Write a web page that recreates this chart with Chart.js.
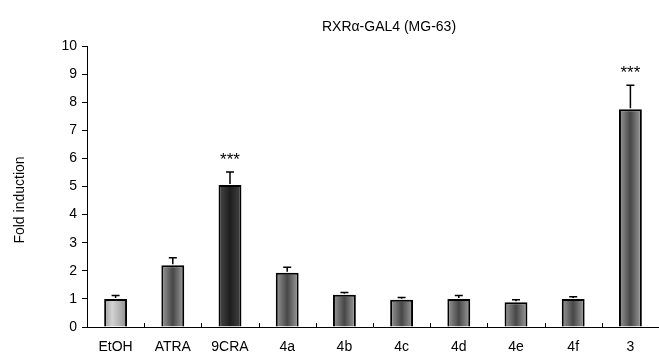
<!DOCTYPE html>
<html>
<head>
<meta charset="utf-8">
<script src="https://cdn.jsdelivr.net/npm/chart.js@4"></script>
<style>
  html, body { margin: 0; padding: 0; background: #fff; }
  #wrap { width: 659px; height: 355px; }
</style>
</head>
<body>
<div id="wrap"><canvas id="chart" width="659" height="355"></canvas></div>
<script>
  // values
  const labels = ['EtOH', 'ATRA', '9CRA', '4a', '4b', '4c', '4d', '4e', '4f', '3'];
  const foldInduction = [1.0, 2.2, 5.05, 1.93, 1.15, 0.97, 1.0, 0.88, 1.0, 7.75];
  const errorTop = [1.12, 2.46, 5.52, 2.13, 1.23, 1.05, 1.12, 0.97, 1.08, 8.6];
  const significance = ['', '', '***', '', '', '', '', '', '', '***'];
  const yTicks = [0, 1, 2, 3, 4, 5, 6, 7, 8, 9, 10];

  // shading of each bar (cylinder look)
  const light = [[0, '#9c9c9c'], [0.35, '#d2d2d2'], [0.65, '#b4b4b4'], [1, '#8c8c8c']];
  const mid = [[0, '#9a9a9a'], [0.5, '#474747'], [1, '#a0a0a0']];
  const dark = [[0, '#4a4a4a'], [0.5, '#1e1e1e'], [1, '#444444']];
  const shades = [light, mid, dark, mid, mid, mid, mid, mid, mid, mid];

  const font = "'Liberation Sans', Arial, sans-serif";

  function barFill(ctx) {
    const chart = ctx.chart;
    const xs = chart.scales.x;
    if (!xs || !chart.chartArea) return '#999';
    const cx = xs.getPixelForValue(ctx.dataIndex);
    const w = (chart.chartArea.right - chart.chartArea.left) / labels.length * 0.4;
    const g = chart.ctx.createLinearGradient(cx - w / 2, 0, cx + w / 2, 0);
    shades[ctx.dataIndex].forEach(([p, c]) => g.addColorStop(p, c));
    return g;
  }

  const extras = {
    id: 'extras',
    afterDatasetsDraw(chart) {
      const c = chart.ctx;
      const xs = chart.scales.x, ys = chart.scales.y;
      const area = chart.chartArea;
      c.save();
      // error bars (upper only)
      c.strokeStyle = '#000';
      c.lineWidth = 1.5;
      errorTop.forEach((e, i) => {
        const x = xs.getPixelForValue(i);
        const yb = ys.getPixelForValue(foldInduction[i]);
        const yt = ys.getPixelForValue(e);
        c.beginPath();
        c.moveTo(x, yb - 1);
        c.lineTo(x, yt);
        c.moveTo(x - 4, yt);
        c.lineTo(x + 4, yt);
        c.stroke();
      });
      // significance stars
      c.fillStyle = '#000';
      c.font = '17px ' + font;
      c.textAlign = 'center';
      c.textBaseline = 'middle';
      significance.forEach((s, i) => {
        if (!s) return;
        c.fillText(s, xs.getPixelForValue(i), ys.getPixelForValue(errorTop[i]) - 12);
      });
      // inward ticks between categories on the x axis
      c.lineWidth = 1;
      const step = (area.right - area.left) / labels.length;
      for (let k = 1; k < labels.length; k++) {
        const x = Math.round(area.left + step * k) + 0.5;
        c.beginPath();
        c.moveTo(x, area.bottom);
        c.lineTo(x, area.bottom - 4);
        c.stroke();
      }
      // title
      c.font = '14px ' + font;
      c.fillText('RXR\u03b1-GAL4 (MG-63)', 389, 27);
      // y axis title
      c.translate(20, 200);
      c.rotate(-Math.PI / 2);
      c.fillText('Fold induction', 0, 0);
      c.restore();
    }
  };

  new Chart(document.getElementById('chart'), {
    type: 'bar',
    data: {
      labels: labels,
      datasets: [{
        data: foldInduction,
        backgroundColor: barFill,
        borderColor: '#000',
        borderWidth: 2,
        borderSkipped: 'bottom',
        categoryPercentage: 1,
        barPercentage: 0.4
      }]
    },
    options: {
      responsive: false,
      animation: false,
      layout: { padding: { top: 46, right: 0, left: 0, bottom: 0 } },
      plugins: { legend: { display: false }, tooltip: { enabled: false }, title: { display: false } },
      scales: {
        x: {
          grid: { display: false },
          border: { color: '#000', width: 1 },
          ticks: { color: '#000', font: { family: font, size: 14 }, padding: 4 },
          afterFit(s) { s.height = 28; }
        },
        y: {
          min: 0,
          max: 10,
          afterBuildTicks(s) { s.ticks = yTicks.map(v => ({ value: v })); },
          grid: { drawOnChartArea: false, drawTicks: true, tickLength: 5, color: '#000' },
          border: { color: '#000', width: 1 },
          ticks: { color: '#000', font: { family: font, size: 14 }, padding: 5 },
          afterFit(s) { s.width = 87; }
        }
      }
    },
    plugins: [extras]
  });
</script>
</body>
</html>
